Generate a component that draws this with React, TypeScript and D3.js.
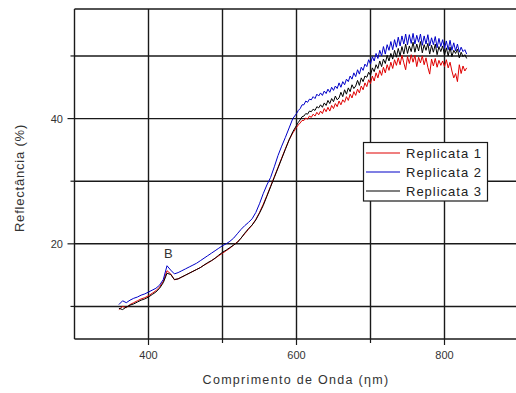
import React from "react";
import * as d3 from "d3";

const wavelengths = [
  360, 365, 370, 375, 380, 385, 390, 395, 400, 405, 410, 415, 420, 425, 430, 435, 440, 445, 450, 455,
  460, 465, 470, 475, 480, 485, 490, 495, 500, 505, 510, 515, 520, 525, 530, 535, 540, 545, 550, 555,
  560, 565, 570, 575, 580, 585, 590, 595,
  600, 602.5, 605, 607.5, 610, 612.5, 615, 617.5, 620, 622.5, 625, 627.5, 630, 632.5, 635, 637.5, 640, 642.5, 645, 647.5,
  650, 652.5, 655, 657.5, 660, 662.5, 665, 667.5, 670, 672.5, 675, 677.5, 680, 682.5, 685, 687.5, 690, 692.5, 695, 697.5,
  700, 702.5, 705, 707.5, 710, 712.5, 715, 717.5, 720, 722.5, 725, 727.5, 730, 732.5, 735, 737.5, 740, 742.5, 745, 747.5,
  750, 752.5, 755, 757.5, 760, 762.5, 765, 767.5, 770, 772.5, 775, 777.5, 780, 782.5, 785, 787.5, 790, 792.5, 795, 797.5,
  800, 802.5, 805, 807.5, 810, 812.5, 815, 817.5, 820, 822.5, 825, 827.5, 830,
];

const replicata1 = [
  9.5, 10.0, 9.8, 10.3, 10.6, 10.9, 11.2, 11.4, 11.7, 12.1, 12.5, 13.1, 14.0, 15.7, 15.2, 14.25, 14.4, 14.7, 15.0, 15.3,
  15.6, 15.9, 16.2, 16.6, 16.9, 17.3, 17.7, 18.1, 18.5, 18.9, 19.3, 19.8, 20.3, 20.9, 21.6, 22.3, 23.0, 23.9, 25.0, 26.3,
  27.7, 29.2, 30.7, 32.2, 33.7, 35.2, 36.6, 37.7,
  38.6, 39.0, 39.3, 39.7, 39.7, 40.1, 39.9, 40.4, 40.2, 40.7, 40.4, 41.0, 40.6, 41.2, 40.8, 41.6, 41.1, 41.8, 41.2, 42.1,
  41.6, 42.4, 41.9, 42.8, 42.2, 43.0, 42.6, 43.5, 42.9, 43.9, 43.3, 44.3, 43.7, 44.7, 44.1, 45.2, 44.6, 45.7, 45.1, 46.2,
  45.6, 46.8, 46.0, 47.3, 46.5, 47.7, 46.9, 48.2, 47.3, 48.6, 47.7, 49.0, 48.0, 49.4, 48.5, 49.7, 48.6, 50.1, 48.9, 47.8,
  49.9, 48.8, 50.2, 49.0, 50.1, 48.3, 49.8, 48.9, 50.0, 48.6, 49.7, 48.2, 47.1, 49.5, 48.4, 49.6, 48.2, 49.3, 48.5, 49.2,
  48.3, 49.4, 48.1, 49.0, 47.6, 46.5, 47.2, 45.9, 48.6, 47.2, 48.4, 47.6, 48.1,
];

const replicata2 = [
  10.3, 10.9, 10.6, 11.0, 11.3, 11.5, 11.8, 12.0, 12.3, 12.6, 12.9, 13.4, 14.3, 16.5, 15.8, 15.2, 15.4, 15.7, 16.0, 16.3,
  16.6, 16.9, 17.3, 17.7, 18.1, 18.5, 18.9, 19.3, 19.7, 20.0, 20.4, 20.9, 21.6, 22.3, 22.9, 23.4, 24.0, 25.0, 26.4, 28.0,
  29.4, 30.6, 32.3, 34.1, 35.6, 37.0, 38.5, 40.0,
  40.8, 41.3, 41.6, 42.2, 42.2, 42.8, 42.6, 43.1, 43.0, 43.5, 43.2, 43.9, 43.6, 44.1, 43.7, 44.4, 44.0, 44.7, 44.2, 45.0,
  44.5, 45.2, 44.8, 45.7, 45.0, 45.9, 45.4, 46.3, 45.9, 46.8, 46.3, 47.3, 46.7, 47.8, 47.1, 48.2, 47.7, 48.7, 48.3, 49.4,
  48.7, 49.9, 49.2, 50.4, 49.6, 50.9, 50.0, 51.5, 50.3, 51.8, 50.9, 52.3, 51.0, 52.6, 51.4, 53.0, 51.6, 53.2, 51.9, 53.5,
  51.8, 53.4, 52.0, 53.6, 51.9, 53.3, 52.2, 53.5, 51.7, 53.2, 51.9, 53.4, 51.6, 52.9, 51.8, 53.1, 51.3, 52.8, 51.5, 52.6,
  51.2, 52.4, 51.0, 52.5, 50.9, 52.1, 50.8, 51.9, 50.6, 51.4, 50.7, 51.0, 50.3,
];

const replicata3 = [
  9.7, 9.5, 9.9, 10.2, 10.4, 10.7, 11.0, 11.2, 11.5, 11.9, 12.3, 12.9, 13.8, 15.3, 15.1, 14.3, 14.4, 14.7, 15.0, 15.3,
  15.6, 15.9, 16.2, 16.6, 17.0, 17.3, 17.7, 18.2, 18.65, 19.0, 19.4, 19.8, 20.2, 20.9, 21.7, 22.4, 23.0, 23.8, 24.9, 26.1,
  27.6, 29.1, 30.6, 32.1, 33.6, 35.1, 36.6, 37.9,
  38.9, 39.4, 39.8, 40.3, 40.4, 40.8, 40.7, 41.2, 41.1, 41.5, 41.3, 41.9, 41.7, 42.2, 41.8, 42.5, 42.1, 42.9, 42.4, 43.2,
  42.7, 43.6, 43.0, 43.3, 44.2, 43.5, 44.6, 43.9, 44.9, 44.3, 45.4, 44.8, 45.2, 46.1, 45.3, 46.5, 45.9, 46.8, 46.6, 47.4,
  46.9, 48.1, 47.5, 48.6, 48.0, 49.2, 48.3, 49.5, 48.8, 50.1, 49.2, 50.4, 49.5, 50.9, 49.8, 51.2, 50.0, 51.5, 50.3, 51.9,
  50.4, 51.6, 50.7, 52.2, 50.6, 51.9, 50.8, 52.3, 50.5, 51.8, 50.9, 52.0, 50.3, 51.7, 50.6, 51.9, 50.2, 51.5, 50.7, 51.6,
  50.1, 51.3, 50.0, 51.4, 49.9, 50.9, 50.4, 51.1, 49.7, 50.6, 49.9, 50.2, 49.6,
];

const seriesNames = ["Replicata 1", "Replicata 2", "Replicata 3"];
const seriesColors = ["#e00000", "#0000c8", "#000000"];
const seriesValues = [replicata1, replicata2, replicata3];

const xTicksMajor = [400, 600, 800];
const xTicksMinor = [500, 700];
const xGrid = [400, 500, 600, 700, 800];
const yTicksMajor = [20, 40];
const yTicksMinor = [10, 30, 50];
const yGrid = [10, 20, 30, 40, 50];

const xTitle = "Comprimento de Onda (ηm)";
const yTitle = "Reflectância (%)";
const annotation = { text: "B", x: 428, y: 18.0 };

export default function App() {
  const W = 516;
  const H = 393;
  const left = 74.5;
  const right = 518.5;
  const top = 9;
  const bottom = 339;
  const x = d3.scaleLinear().domain([300, 900]).range([left, right]);
  const y = d3.scaleLinear().domain([4.8, 57.5]).range([bottom, top]);

  const line = d3
    .line<number>()
    .x((_, i) => x(wavelengths[i]))
    .y((d) => y(d));

  const font = "Arial, 'Liberation Sans', sans-serif";
  const gridColor = "#1a1a1a";
  const textColor = "#333";

  return (
    <svg
      width={W}
      height={H}
      style={{ position: "absolute", left: 0, top: 0, background: "#fff" }}
      fontFamily={font}
    >
      <rect x={0} y={0} width={W} height={H} fill="#fff" />
      {xGrid.map((v) => (
        <line key={"gx" + v} x1={x(v)} x2={x(v)} y1={top} y2={bottom} stroke={gridColor} strokeWidth={1.4} />
      ))}
      {yGrid.map((v) => (
        <line key={"gy" + v} x1={left} x2={W} y1={y(v)} y2={y(v)} stroke={gridColor} strokeWidth={1.4} />
      ))}
      <line x1={left} x2={W} y1={top} y2={top} stroke={gridColor} strokeWidth={1.4} />
      <line x1={left} x2={left} y1={top} y2={bottom} stroke={gridColor} strokeWidth={1.4} />
      <line x1={left} x2={W} y1={bottom} y2={bottom} stroke={gridColor} strokeWidth={1.4} />
      {xTicksMajor.map((v) => (
        <line key={"tx" + v} x1={x(v)} x2={x(v)} y1={bottom} y2={bottom + 6} stroke={gridColor} strokeWidth={1.2} />
      ))}
      {xTicksMinor.map((v) => (
        <line key={"tmx" + v} x1={x(v)} x2={x(v)} y1={bottom} y2={bottom + 4} stroke={gridColor} strokeWidth={1.2} />
      ))}
      {yTicksMajor.map((v) => (
        <line key={"ty" + v} x1={left - 7} x2={left} y1={y(v)} y2={y(v)} stroke={gridColor} strokeWidth={1.2} />
      ))}
      {yTicksMinor.map((v) => (
        <line key={"tmy" + v} x1={left - 4} x2={left} y1={y(v)} y2={y(v)} stroke={gridColor} strokeWidth={1.2} />
      ))}
      {xTicksMajor.map((v) => (
        <text key={"lx" + v} x={x(v)} y={359} textAnchor="middle" fontSize={11} fill={textColor}>
          {v}
        </text>
      ))}
      {yTicksMajor.map((v) => (
        <text key={"ly" + v} x={63} y={y(v) + 4} textAnchor="end" fontSize={11} fill={textColor}>
          {v}
        </text>
      ))}
      <text x={296} y={384} textAnchor="middle" fontSize={12.5} letterSpacing={1.3} fill={textColor}>
        {xTitle}
      </text>
      <text
        transform={`translate(24,178) rotate(-90)`}
        textAnchor="middle"
        fontSize={13}
        letterSpacing={0.8}
        fill={textColor}
      >
        {yTitle}
      </text>
      {seriesValues.map((vals, i) => (
        <path key={"s" + i} d={line(vals) || ""} fill="none" stroke={seriesColors[i]} strokeWidth={1} />
      ))}
      <text x={x(annotation.x) - 1} y={y(annotation.y) + 2} textAnchor="middle" fontSize={13} fill={textColor}>
        {annotation.text}
      </text>
      <rect x={363.5} y={142.5} width={124} height={58.5} fill="#fff" stroke={gridColor} strokeWidth={1.2} />
      {seriesNames.map((n, i) => (
        <g key={"lg" + i}>
          <line x1={366} x2={400} y1={153 + i * 19} y2={153 + i * 19} stroke={seriesColors[i]} strokeWidth={1.2} />
          <text x={406} y={157.5 + i * 19} fontSize={13} letterSpacing={1} fill="#222">
            {n}
          </text>
        </g>
      ))}
    </svg>
  );
}
